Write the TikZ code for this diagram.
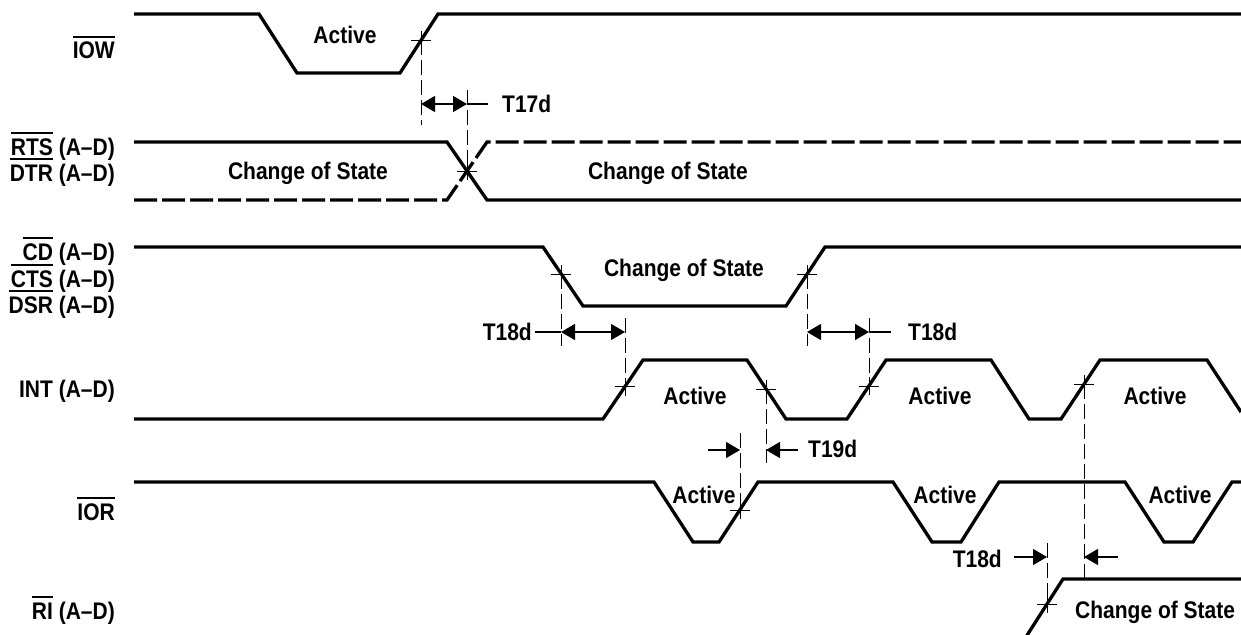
\documentclass[tikz,border=0pt]{standalone}
\usepackage{fontspec}
\setmainfont{Liberation Sans}[FakeStretch=0.875]
\usetikzlibrary{arrows.meta}

\newcommand\ovbar[1]{\vbox{\hrule height 2.7pt\kern 4pt\hbox{#1}}}
\tikzset{
  xmark/.pic={\draw[line width=0.8pt] (-10,0) -- (10,0) (0,-9) -- (0,9);}
}

\begin{document}
\begin{tikzpicture}[x=1pt, y=-1pt,
    every node/.style={inner sep=0pt, font=\fontsize{24}{28}\selectfont\bfseries},
    wave/.style={line width=3.3pt},
    wavedash/.style={wave, dash pattern=on 23pt off 5pt},
    guide/.style={line width=0.8pt, dash pattern=on 15pt off 5pt},
    dim/.style={line width=1.2pt},
    tip/.style={-{Triangle[length=14pt, width=16pt]}},
    tips/.style={{Triangle[length=14pt, width=16pt]}-{Triangle[length=14pt, width=16pt]}}]
  \useasboundingbox (0,0) rectangle (1241,634);

  % signal names
  \node (iow) at (115,59) [anchor=base east] {\ovbar{IOW}};
  \node (rts) at (115,155) [anchor=base east] {\ovbar{RTS} (A--D)};
  \node (dtr) at (115,181) [anchor=base east] {\ovbar{DTR} (A--D)};
  \node (cd) at (115,260) [anchor=base east] {\ovbar{CD} (A--D)};
  \node (cts) at (115,287) [anchor=base east] {\ovbar{CTS} (A--D)};
  \node (dsr) at (115,313) [anchor=base east] {\ovbar{DSR} (A--D)};
  \node (int) at (115,397) [anchor=base east] {INT (A--D)};
  \node (ior) at (115,520) [anchor=base east] {\ovbar{IOR}};
  \node (ri) at (115,619) [anchor=base east] {\ovbar{RI} (A--D)};

  % waveforms
  \draw[wave] (134,14) -- (259,14) -- (297,73) -- (400,73) -- (438,14) -- (1241,14);
  \draw[wave] (134,142) -- (447,142) -- (487,200) -- (1241,200);
  \draw[wavedash] (134,200) -- (447,200) -- (487,142) -- (1241,142);
  \draw[wave] (134,247) -- (543,247) -- (583,306) -- (786,306) -- (825,247) -- (1241,247);
  \draw[wave] (134,419) -- (603,419) -- (643,360) -- (747,360) -- (786,419) -- (847,419)
    -- (886,360) -- (991,360) -- (1029,419) -- (1061,419) -- (1100,360) -- (1207,360) -- (1241,412);
  \draw[wave] (134,482) -- (654,482) -- (693,542) -- (719,542) -- (758,482) -- (893,482)
    -- (932,542) -- (961,542) -- (999,482) -- (1125,482) -- (1164,542) -- (1193,542)
    -- (1232,482) -- (1241,482);
  \draw[wave] (1024,640) -- (1063,579) -- (1241,579);

  % crossing points
  \coordinate (wr) at (421,40);
  \coordinate (rx) at (467,171);
  \coordinate (cf) at (561,274);
  \coordinate (cr) at (807,274);
  \coordinate (i1) at (625,386.5);
  \coordinate (i2) at (766,389);
  \coordinate (i3) at (869,386);
  \coordinate (i4) at (1084,384);
  \coordinate (or) at (740,510);
  \coordinate (rr) at (1047,604);
  \foreach \p in {wr,rx,cf,cr,i1,i2,i3,i4,or,rr}
    \pic at (\p) {xmark};

  % guide lines
  \draw[guide] (wr) -- (421,125);
  \draw[guide] (467,90) -- (rx);
  \draw[guide] (cf) -- (561,346);
  \draw[guide] (625,318) -- (i1);
  \draw[guide] (cr) -- (807,346);
  \draw[guide] (869,318) -- (i3);
  \draw[guide] (i2) -- (766,463);
  \draw[guide] (740,433) -- (or);
  \draw[guide] (i4) -- (1084,583);
  \draw[guide] (1047,543) -- (rr);

  % timing marks
  \draw[dim, tips] (421,104) -- (467,104);
  \draw[dim] (467,104) -- (488,104);
  \node (t17) at (502,112) [anchor=base west] {T17d};

  \draw[dim, tips] (561,332) -- (625,332);
  \draw[dim] (535,332) -- (561,332);
  \node (t18a) at (532,340) [anchor=base east] {T18d};

  \draw[dim, tips] (807,332) -- (869,332);
  \draw[dim] (869,332) -- (891,332);
  \node (t18b) at (908,340) [anchor=base west] {T18d};

  \draw[dim, tip] (708,450) -- (740,450);
  \draw[dim, tip] (798,450) -- (766,450);
  \node (t19) at (808,457) [anchor=base west] {T19d};

  \draw[dim, tip] (1014,557) -- (1047,557);
  \draw[dim, tip] (1118,557) -- (1084,557);
  \node (t18c) at (1002,567) [anchor=base east] {T18d};

  % state labels
  \node (iowact) at (345,44) [anchor=base] {Active};
  \node (rtsa) at (308,179) [anchor=base] {Change of State};
  \node (rtsb) at (668,179) [anchor=base] {Change of State};
  \node (cdst) at (684,276) [anchor=base] {Change of State};
  \node (inta) at (695,404) [anchor=base] {Active};
  \node (intb) at (940,404) [anchor=base] {Active};
  \node (intc) at (1155,404) [anchor=base] {Active};
  \node (iora) at (704,503) [anchor=base] {Active};
  \node (iorb) at (945,503) [anchor=base] {Active};
  \node (iorc) at (1180,503) [anchor=base] {Active};
  \node (rist) at (1075,618) [anchor=base west] {Change of State};
\end{tikzpicture}
\end{document}
